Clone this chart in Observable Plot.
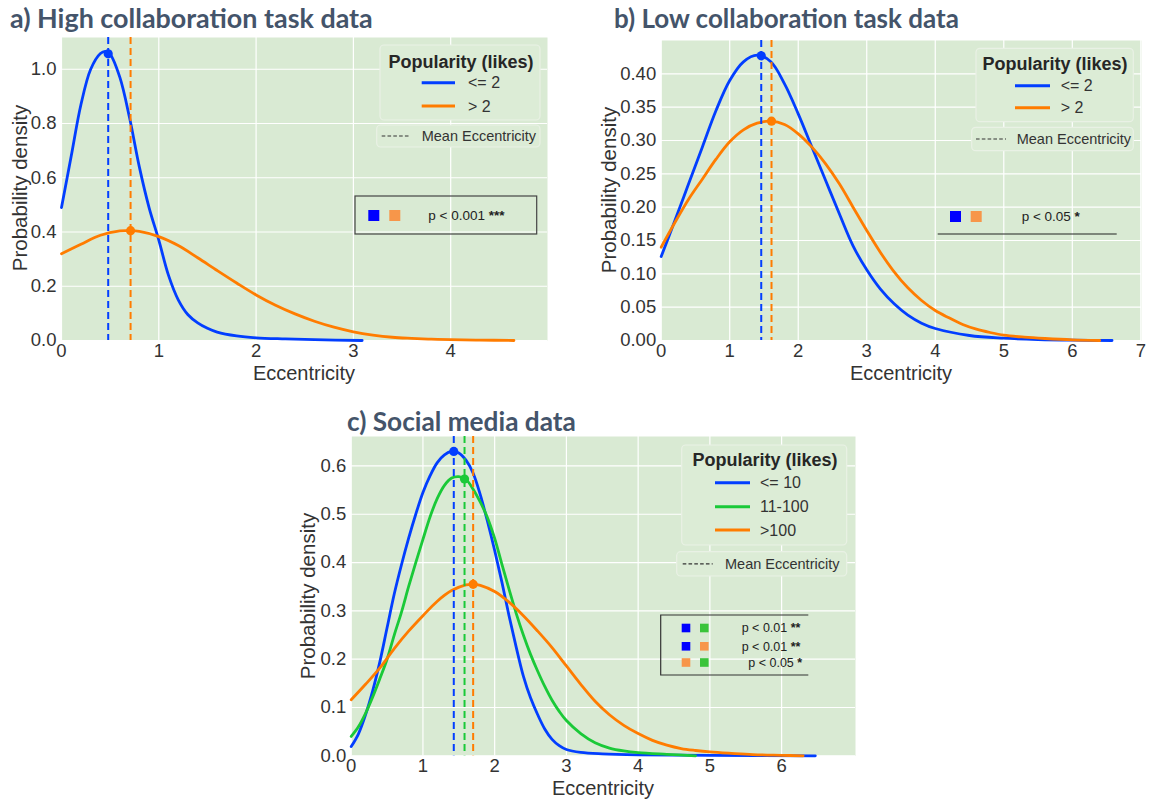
<!DOCTYPE html>
<html><head><meta charset="utf-8">
<script src="https://cdn.jsdelivr.net/npm/d3@7"></script>
<script src="https://cdn.jsdelivr.net/npm/@observablehq/plot@0.6"></script>
<style>
html,body{margin:0;padding:0;background:#fff;}
#root{position:relative;width:1154px;height:800px;overflow:hidden;background:#fff;}
#root > svg{position:absolute;margin:0;}
.ov{position:absolute;left:0;top:0;pointer-events:none;}
</style></head><body><div id="root"></div>
<script>
// ---------- DATA ----------
// a) High collaboration task data
const aTitle = "a) High collaboration task data";
const aLabels = ["<= 2", "> 2"];
const aXTicks = [0, 1, 2, 3, 4];
const aYTicks = [0, 0.2, 0.4, 0.6, 0.8, 1.0];
const aLowX  = [0, 0.1, 0.2, 0.3, 0.4, 0.45, 0.5, 0.6, 0.7, 0.8, 0.9, 1.0, 1.1, 1.2, 1.3, 1.4, 1.5, 1.6, 1.8, 2.0, 2.3, 2.6, 3.09];
const aLowY  = [0.49, 0.68, 0.87, 1.00, 1.058, 1.066, 1.055, 0.97, 0.82, 0.64, 0.49, 0.37, 0.24, 0.15, 0.095, 0.065, 0.045, 0.031, 0.017, 0.010, 0.006, 0.003, 0.0];
const aHighX = [0, 0.2, 0.4, 0.6, 0.7, 0.8, 1.0, 1.2, 1.4, 1.6, 1.8, 2.0, 2.2, 2.4, 2.6, 2.8, 3.0, 3.2, 3.4, 3.6, 3.8, 4.0, 4.3, 4.65];
const aHighY = [0.32, 0.355, 0.388, 0.404, 0.405, 0.402, 0.383, 0.35, 0.305, 0.258, 0.212, 0.168, 0.13, 0.098, 0.071, 0.049, 0.032, 0.02, 0.012, 0.008, 0.005, 0.003, 0.0015, 0.0];
const aMeans = [0.48, 0.71];
const aMeanDensity = [1.057, 0.405];
const aP = ["p < 0.001", "***"];

// b) Low collaboration task data
const bTitle = "b) Low collaboration task data";
const bLabels = ["<= 2", "> 2"];
const bXTicks = [0, 1, 2, 3, 4, 5, 6, 7];
const bYTicks = [0, 0.05, 0.10, 0.15, 0.20, 0.25, 0.30, 0.35, 0.40];
const bLowX  = [0, 0.2, 0.4, 0.6, 0.8, 1.0, 1.2, 1.4, 1.6, 1.8, 2.0, 2.2, 2.4, 2.6, 2.8, 3.0, 3.2, 3.4, 3.6, 3.8, 4.0, 4.5, 5.0, 5.5, 6.0, 6.58];
const bLowY  = [0.126, 0.18, 0.235, 0.29, 0.345, 0.39, 0.418, 0.428, 0.418, 0.385, 0.34, 0.29, 0.24, 0.19, 0.142, 0.106, 0.077, 0.055, 0.038, 0.026, 0.018, 0.0075, 0.0035, 0.0015, 0.0005, 0.0];
const bHighX = [0, 0.2, 0.4, 0.6, 0.8, 1.0, 1.2, 1.4, 1.6, 1.8, 2.0, 2.2, 2.4, 2.6, 2.8, 3.0, 3.2, 3.4, 3.6, 3.8, 4.0, 4.2, 4.4, 4.6, 4.8, 5.0, 5.3, 5.6, 6.0, 6.4];
const bHighY = [0.14, 0.177, 0.212, 0.242, 0.272, 0.298, 0.316, 0.326, 0.329, 0.324, 0.31, 0.29, 0.265, 0.235, 0.20, 0.165, 0.132, 0.103, 0.079, 0.06, 0.045, 0.034, 0.024, 0.017, 0.012, 0.008, 0.005, 0.003, 0.001, 0.0];
const bMeans = [1.46, 1.61];
const bMeanDensity = [0.427, 0.329];
const bP = ["p < 0.05", "*"];

// c) Social media data
const cTitle = "c) Social media data";
const cLabels = ["<= 10", "11-100", ">100"];
const cXTicks = [0, 1, 2, 3, 4, 5, 6];
const cYTicks = [0, 0.1, 0.2, 0.3, 0.4, 0.5, 0.6];
const cLowX  = [0, 0.1, 0.2, 0.3, 0.4, 0.5, 0.6, 0.7, 0.8, 0.9, 1.0, 1.1, 1.2, 1.3, 1.4, 1.5, 1.6, 1.7, 1.8, 1.9, 2.0, 2.1, 2.2, 2.3, 2.4, 2.5, 2.6, 2.7, 2.8, 2.9, 3.0, 3.2, 3.5, 4.0, 5.0, 6.47];
const cLowY  = [0.019, 0.045, 0.085, 0.135, 0.195, 0.265, 0.335, 0.395, 0.45, 0.50, 0.545, 0.58, 0.607, 0.623, 0.63, 0.627, 0.612, 0.585, 0.54, 0.485, 0.425, 0.36, 0.29, 0.225, 0.165, 0.12, 0.085, 0.055, 0.034, 0.021, 0.013, 0.007, 0.004, 0.002, 0.0008, 0.0];
const cMidX  = [0, 0.1, 0.2, 0.3, 0.4, 0.5, 0.6, 0.7, 0.8, 0.9, 1.0, 1.1, 1.2, 1.3, 1.4, 1.5, 1.6, 1.7, 1.8, 1.9, 2.0, 2.1, 2.2, 2.3, 2.4, 2.5, 2.6, 2.7, 2.8, 2.9, 3.0, 3.2, 3.4, 3.6, 3.8, 4.0, 4.4, 4.8];
const cMidY  = [0.04, 0.06, 0.088, 0.122, 0.16, 0.20, 0.25, 0.297, 0.35, 0.40, 0.448, 0.495, 0.533, 0.56, 0.575, 0.578, 0.572, 0.552, 0.525, 0.493, 0.45, 0.397, 0.345, 0.295, 0.25, 0.21, 0.175, 0.143, 0.115, 0.092, 0.073, 0.046, 0.027, 0.016, 0.010, 0.0065, 0.003, 0.0];
const cHighX = [0, 0.2, 0.4, 0.6, 0.8, 1.0, 1.2, 1.4, 1.6, 1.7, 1.8, 2.0, 2.2, 2.4, 2.6, 2.8, 3.0, 3.2, 3.4, 3.6, 3.8, 4.0, 4.2, 4.4, 4.6, 4.8, 5.0, 5.3, 5.6, 6.0, 6.3];
const cHighY = [0.116, 0.148, 0.182, 0.222, 0.258, 0.29, 0.32, 0.342, 0.354, 0.355, 0.353, 0.34, 0.318, 0.29, 0.258, 0.224, 0.186, 0.148, 0.113, 0.085, 0.063, 0.046, 0.032, 0.022, 0.015, 0.011, 0.008, 0.005, 0.0025, 0.001, 0.0];
const cMeans = [1.43, 1.58, 1.70];
const cMeanDensity = [0.63, 0.573, 0.355];
const cP = [["p < 0.01", "**"], ["p < 0.01", "**"], ["p < 0.05", "*"]];

const xLabel = "Eccentricity";
const yLabel = "Probability density";
const legendTitle = "Popularity (likes)";
const meanLabel = "Mean Eccentricity";

// ---------- STYLE ----------
const BLUE = "#023eff", ORANGE = "#ff7c00", GREEN = "#1ac938";
const SQ_BLUE = "#0000ff", SQ_ORANGE = "#f7964a", SQ_GREEN = "#3ac43a";
const BG = "#d9ead3";
const TITLE_COLOR = "#44546a";
const FONT = "'Liberation Sans', Arial, sans-serif";
const root = document.getElementById("root");

function panel(o) {
  const marks = [
    Plot.frame({fill: BG, stroke: "none"}),
    Plot.ruleX(o.xTicks, {stroke: "white", strokeWidth: 1.2}),
    Plot.ruleY(o.yTicks, {stroke: "white", strokeWidth: 1.2})
  ];
  o.series.forEach(s => {
    const rows = s.x.map((x, i) => ({x, y: s.y[i]}));
    marks.push(Plot.line(rows, {x: "x", y: "y", stroke: s.color, strokeWidth: 2.8, curve: "catmull-rom"}));
  });
  const md = o.means.map((m, i) => ({x: m, y: o.meanY[i], c: o.series[i].color}));
  marks.push(Plot.ruleX(md, {x: "x", stroke: "c", strokeWidth: 2, strokeDasharray: "7,4"}));
  marks.push(Plot.dot(md, {x: "x", y: "y", fill: "c", r: 4.6}));
  const svg = Plot.plot({
    width: o.width, height: o.height,
    marginLeft: o.ml, marginRight: o.mr, marginTop: o.mt, marginBottom: o.mb,
    style: {background: "transparent", fontFamily: FONT, fontSize: "18.5px", color: "#333", overflow: "visible"},
    color: {type: "identity"},
    x: {domain: o.xDomain, ticks: o.xTicks, tickSize: 0, tickPadding: 3.5, tickFormat: d3.format("d"), label: null},
    y: {domain: o.yDomain, ticks: o.yTicks, tickSize: 0, tickPadding: 5, tickFormat: d3.format(o.yFmt), label: null},
    marks
  });
  svg.style.left = o.left + "px";
  svg.style.top = o.top + "px";
  root.appendChild(svg);
}

panel({left: 0, top: 0, width: 560, height: 400, ml: 61, mr: 13, mt: 37, mb: 60,
  xDomain: [0, 4.995], yDomain: [0, 1.117], xTicks: aXTicks, yTicks: aYTicks, yFmt: ".1f",
  series: [{x: aLowX, y: aLowY, color: BLUE}, {x: aHighX, y: aHighY, color: ORANGE}],
  means: aMeans, meanY: aMeanDensity});
panel({left: 580, top: 0, width: 574, height: 400, ml: 80.7, mr: 13, mt: 40, mb: 60,
  xDomain: [0, 7.01], yDomain: [0, 0.45], xTicks: bXTicks, yTicks: bYTicks, yFmt: ".2f",
  series: [{x: bLowX, y: bLowY, color: BLUE}, {x: bHighX, y: bHighY, color: ORANGE}],
  means: bMeans, meanY: bMeanDensity});
panel({left: 290, top: 400, width: 580, height: 400, ml: 60.7, mr: 15, mt: 36, mb: 44.7,
  xDomain: [0, 7.03], yDomain: [0, 0.661], xTicks: cXTicks, yTicks: cYTicks, yFmt: ".1f",
  series: [{x: cLowX, y: cLowY, color: BLUE}, {x: cMidX, y: cMidY, color: GREEN}, {x: cHighX, y: cHighY, color: ORANGE}],
  means: cMeans, meanY: cMeanDensity});

// ---------- OVERLAY TEXT / LEGENDS ----------
const ov = d3.select(root).append("svg").attr("class", "ov").attr("width", 1154).attr("height", 800)
  .style("font-family", FONT);

function title(t, x, y, w) {
  const el = ov.append("text").attr("x", x).attr("y", y).attr("font-family", "Lato, 'Noto Sans', sans-serif")
    .attr("font-weight", 700).attr("font-size", 24).attr("fill", TITLE_COLOR).text(t);
  const len = el.node().getComputedTextLength();
  el.attr("font-size", 24 * w / len);
}
title(aTitle, 10, 28, 363);
title(bTitle, 614, 28, 345);
title(cTitle, 347, 431, 229);

function axisLabels(yx, yy, xx, xy) {
  ov.append("text").attr("transform", `translate(${yx},${yy}) rotate(-90)`).attr("text-anchor", "middle")
    .attr("dy", "0.35em").attr("font-size", 20.5).attr("fill", "#333").text(yLabel);
  ov.append("text").attr("x", xx).attr("y", xy).attr("text-anchor", "middle").attr("dy", "0.35em")
    .attr("font-size", 20).attr("fill", "#333").text(xLabel);
}
axisLabels(20, 188, 304, 373);
axisLabels(609, 190, 901, 373);
axisLabels(308, 596, 603, 788);

function legend(o) {
  ov.append("rect").attr("x", o.box[0]).attr("y", o.box[1]).attr("width", o.box[2] - o.box[0]).attr("height", o.box[3] - o.box[1])
    .attr("rx", 4).attr("fill", "#dcecd6").attr("stroke", "#e9f1e5").attr("stroke-width", 1.2);
  ov.append("text").attr("x", o.tx).attr("y", o.ty).attr("dy", "0.35em").attr("text-anchor", "middle")
    .attr("font-size", 18).attr("font-weight", 700).attr("fill", "#262626").text(legendTitle);
  o.labels.forEach((lab, i) => {
    ov.append("line").attr("x1", o.lx[0]).attr("x2", o.lx[1]).attr("y1", o.rows[i]).attr("y2", o.rows[i])
      .attr("stroke", o.colors[i]).attr("stroke-width", 3);
    ov.append("text").attr("x", o.labx).attr("y", o.rows[i]).attr("dy", "0.35em").attr("font-size", 16)
      .attr("fill", "#333").text(lab);
  });
  const m = o.mbox;
  ov.append("rect").attr("x", m[0]).attr("y", m[1]).attr("width", m[2] - m[0]).attr("height", m[3] - m[1])
    .attr("rx", 4).attr("fill", "#dcecd6").attr("stroke", "#e9f1e5").attr("stroke-width", 1.2);
  const my = (m[1] + m[3]) / 2;
  ov.append("line").attr("x1", o.dx[0]).attr("x2", o.dx[1]).attr("y1", my).attr("y2", my)
    .attr("stroke", "#333").attr("stroke-width", 1.1).attr("stroke-dasharray", "3.6,2.2");
  ov.append("text").attr("x", o.mtx).attr("y", my).attr("dy", "0.35em").attr("font-size", 14.5)
    .attr("fill", "#333").text(meanLabel);
}
legend({box: [380, 45, 540, 120], tx: 461, ty: 62, lx: [421.7, 455], rows: [82.7, 106], labx: 468, labels: aLabels,
  colors: [BLUE, ORANGE], mbox: [376.7, 125, 540, 147], dx: [381.7, 410], mtx: 421.7});
legend({box: [976, 48.3, 1133.3, 121.7], tx: 1055, ty: 63.3, lx: [1015, 1050], rows: [85.7, 107.7], labx: 1060.7, labels: bLabels,
  colors: [BLUE, ORANGE], mbox: [971.7, 127.3, 1133.3, 150.7], dx: [976, 1006], mtx: 1016.7});
legend({box: [681.7, 445, 846.7, 545], tx: 765, ty: 460, lx: [715, 750], rows: [482.7, 506.7, 530], labx: 760, labels: cLabels,
  colors: [BLUE, GREEN, ORANGE], mbox: [676.7, 551.7, 846.7, 576], dx: [682.7, 712.7], mtx: 725});

function ptext(x, y, parts, fs) {
  const t = ov.append("text").attr("x", x).attr("y", y).attr("dy", "0.35em").attr("font-size", fs).attr("fill", "#222");
  t.append("tspan").text(parts[0] + " ");
  t.append("tspan").attr("font-weight", 700).text(parts[1]);
}
function sq(x, y, s, c) { ov.append("rect").attr("x", x).attr("y", y).attr("width", s).attr("height", s).attr("fill", c); }

// a) p box
ov.append("rect").attr("x", 355).attr("y", 196).attr("width", 181.7).attr("height", 38)
  .attr("fill", "none").attr("stroke", "#444").attr("stroke-width", 1.2);
sq(368.3, 210, 11, SQ_BLUE); sq(389.3, 210, 11, SQ_ORANGE);
ptext(428.3, 215.5, aP, 13.5);
// b) p line
ov.append("line").attr("x1", 937.7).attr("x2", 1116.7).attr("y1", 234).attr("y2", 234).attr("stroke", "#222").attr("stroke-width", 1.2);
sq(950, 211, 11, SQ_BLUE); sq(970.7, 211, 11, SQ_ORANGE);
ptext(1021.7, 216.5, bP, 13.5);
// c) p box (open on right)
ov.append("path").attr("d", "M808.3,615H660.7V675H808.3").attr("fill", "none").attr("stroke", "#333").attr("stroke-width", 1.2);
const cSq = [[SQ_BLUE, SQ_GREEN], [SQ_BLUE, SQ_ORANGE], [SQ_ORANGE, SQ_GREEN]];
const cRows = [628, 646.3, 662.5];
const cTx = [741.7, 741.7, 748.3];
cSq.forEach((pair, i) => {
  sq(681.7, cRows[i] - 4.3, 8.6, pair[0]);
  sq(700, cRows[i] - 4.3, 8.6, pair[1]);
  ptext(cTx[i], cRows[i], cP[i], 12.5);
});
</script></body></html>
